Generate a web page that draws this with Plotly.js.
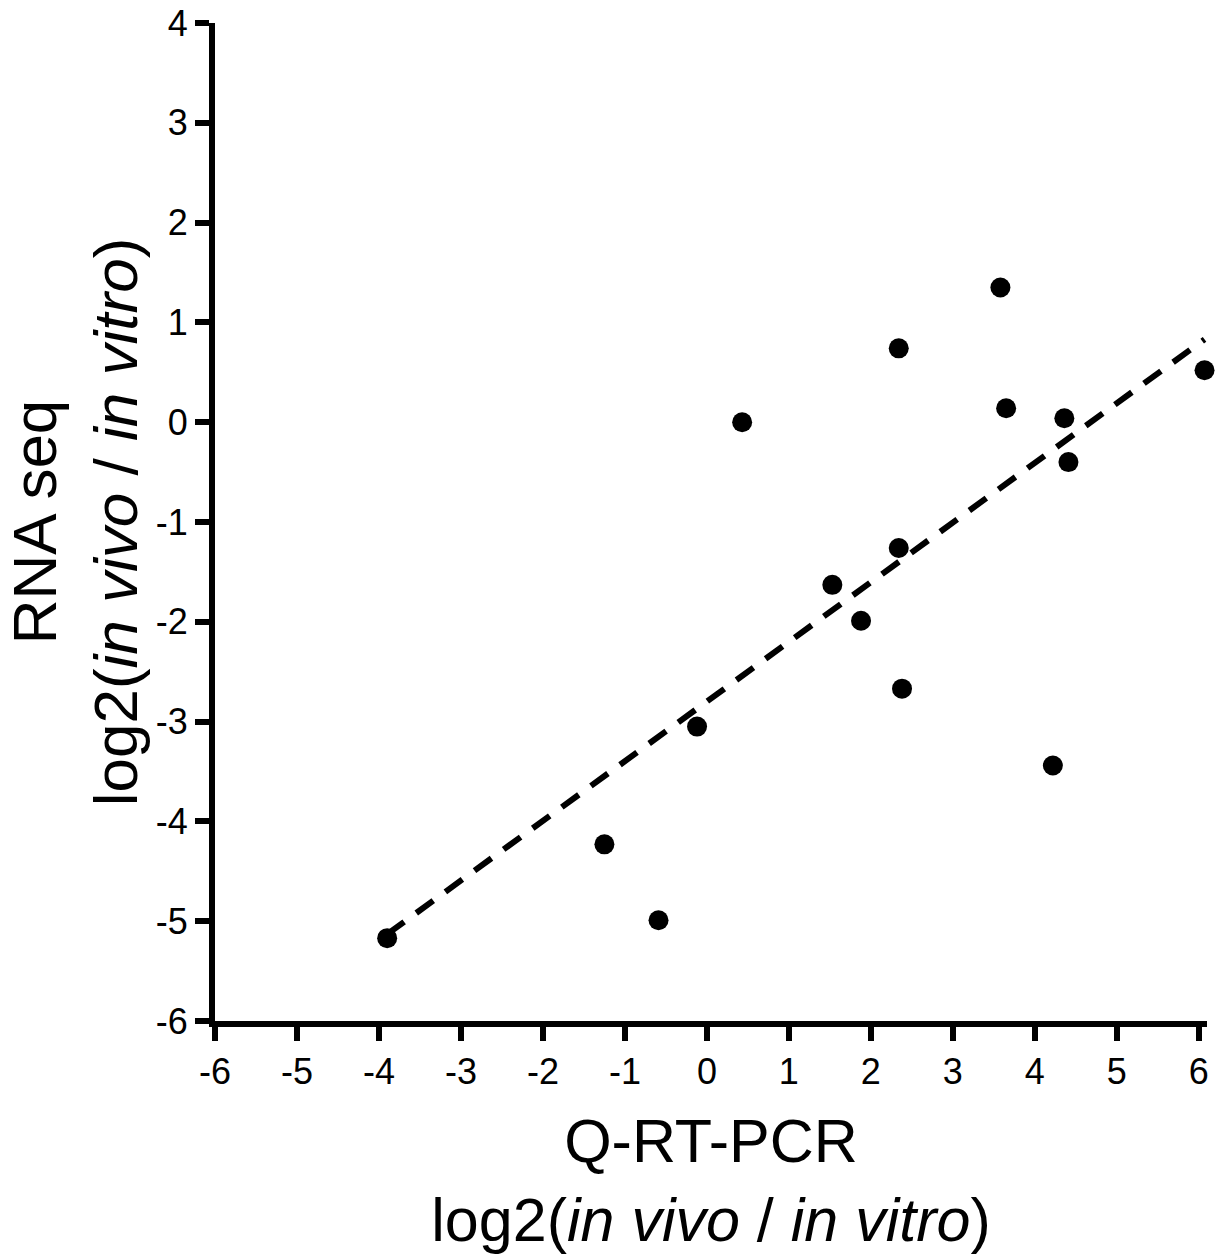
<!DOCTYPE html>
<html>
<head>
<meta charset="utf-8">
<script src="https://cdn.plot.ly/plotly-3.0.1.min.js"></script>
<style>html,body{margin:0;padding:0;background:#fff;}#chart{width:1225px;height:1254px;}</style>
</head>
<body>
<div id="chart"></div>
<script>
// Data
const qrtpcr = [-3.90, -1.25, -0.59, -0.12, 0.43, 1.53, 1.88, 2.34, 2.34, 2.38, 3.58, 3.65, 4.22, 4.36, 4.41, 6.07];
const rnaseq = [-5.17, -4.23, -4.99, -3.05, 0.00, -1.63, -1.99, 0.74, -1.26, -2.67, 1.35, 0.14, -3.44, 0.04, -0.40, 0.52];
const trendX = [-3.90, 6.07];
const trendY = [-5.13, 0.83];
const xTicks = [-6, -5, -4, -3, -2, -1, 0, 1, 2, 3, 4, 5, 6];
const yTicks = [-6, -5, -4, -3, -2, -1, 0, 1, 2, 3, 4];

const font = 'Arial, "Liberation Sans", sans-serif';

const traces = [
  {
    x: trendX, y: trendY, type: 'scatter', mode: 'lines',
    line: {color: '#000', width: 6, dash: '21px,15px'},
    hoverinfo: 'skip', showlegend: false, cliponaxis: false
  },
  {
    x: qrtpcr, y: rnaseq, type: 'scatter', mode: 'markers',
    marker: {color: '#000', size: 20},
    showlegend: false, cliponaxis: false
  }
];

const axisCommon = {
  showgrid: false, zeroline: false, showline: true,
  linecolor: '#000', linewidth: 6,
  ticks: 'outside', ticklen: 14, tickwidth: 6, tickcolor: '#000',
  tickfont: {family: font, size: 36, color: '#000'},
  tickmode: 'array'
};

const layout = {
  width: 1225, height: 1254,
  paper_bgcolor: '#fff', plot_bgcolor: '#fff',
  margin: {l: 215, r: 18, t: 23, b: 233},
  showlegend: false,
  xaxis: Object.assign({}, axisCommon, {
    range: [-6, 6.1], tickvals: xTicks, ticktext: xTicks.map(String),
    title: {text: 'Q-RT-PCR<br>log2(<i>in vivo</i> / <i>in vitro</i>)',
            font: {family: font, size: 61, color: '#000'}, standoff: 40}
  }),
  yaxis: Object.assign({}, axisCommon, {
    range: [-6, 4], tickvals: yTicks, ticktext: yTicks.map(String),
    title: {text: 'RNA seq<br>log2(<i>in vivo</i> / <i>in vitro</i>)',
            font: {family: font, size: 62, color: '#000'}, standoff: 8}
  })
};

Plotly.newPlot('chart', traces, layout, {displayModeBar: false, staticPlot: true});
</script>
</body>
</html>
